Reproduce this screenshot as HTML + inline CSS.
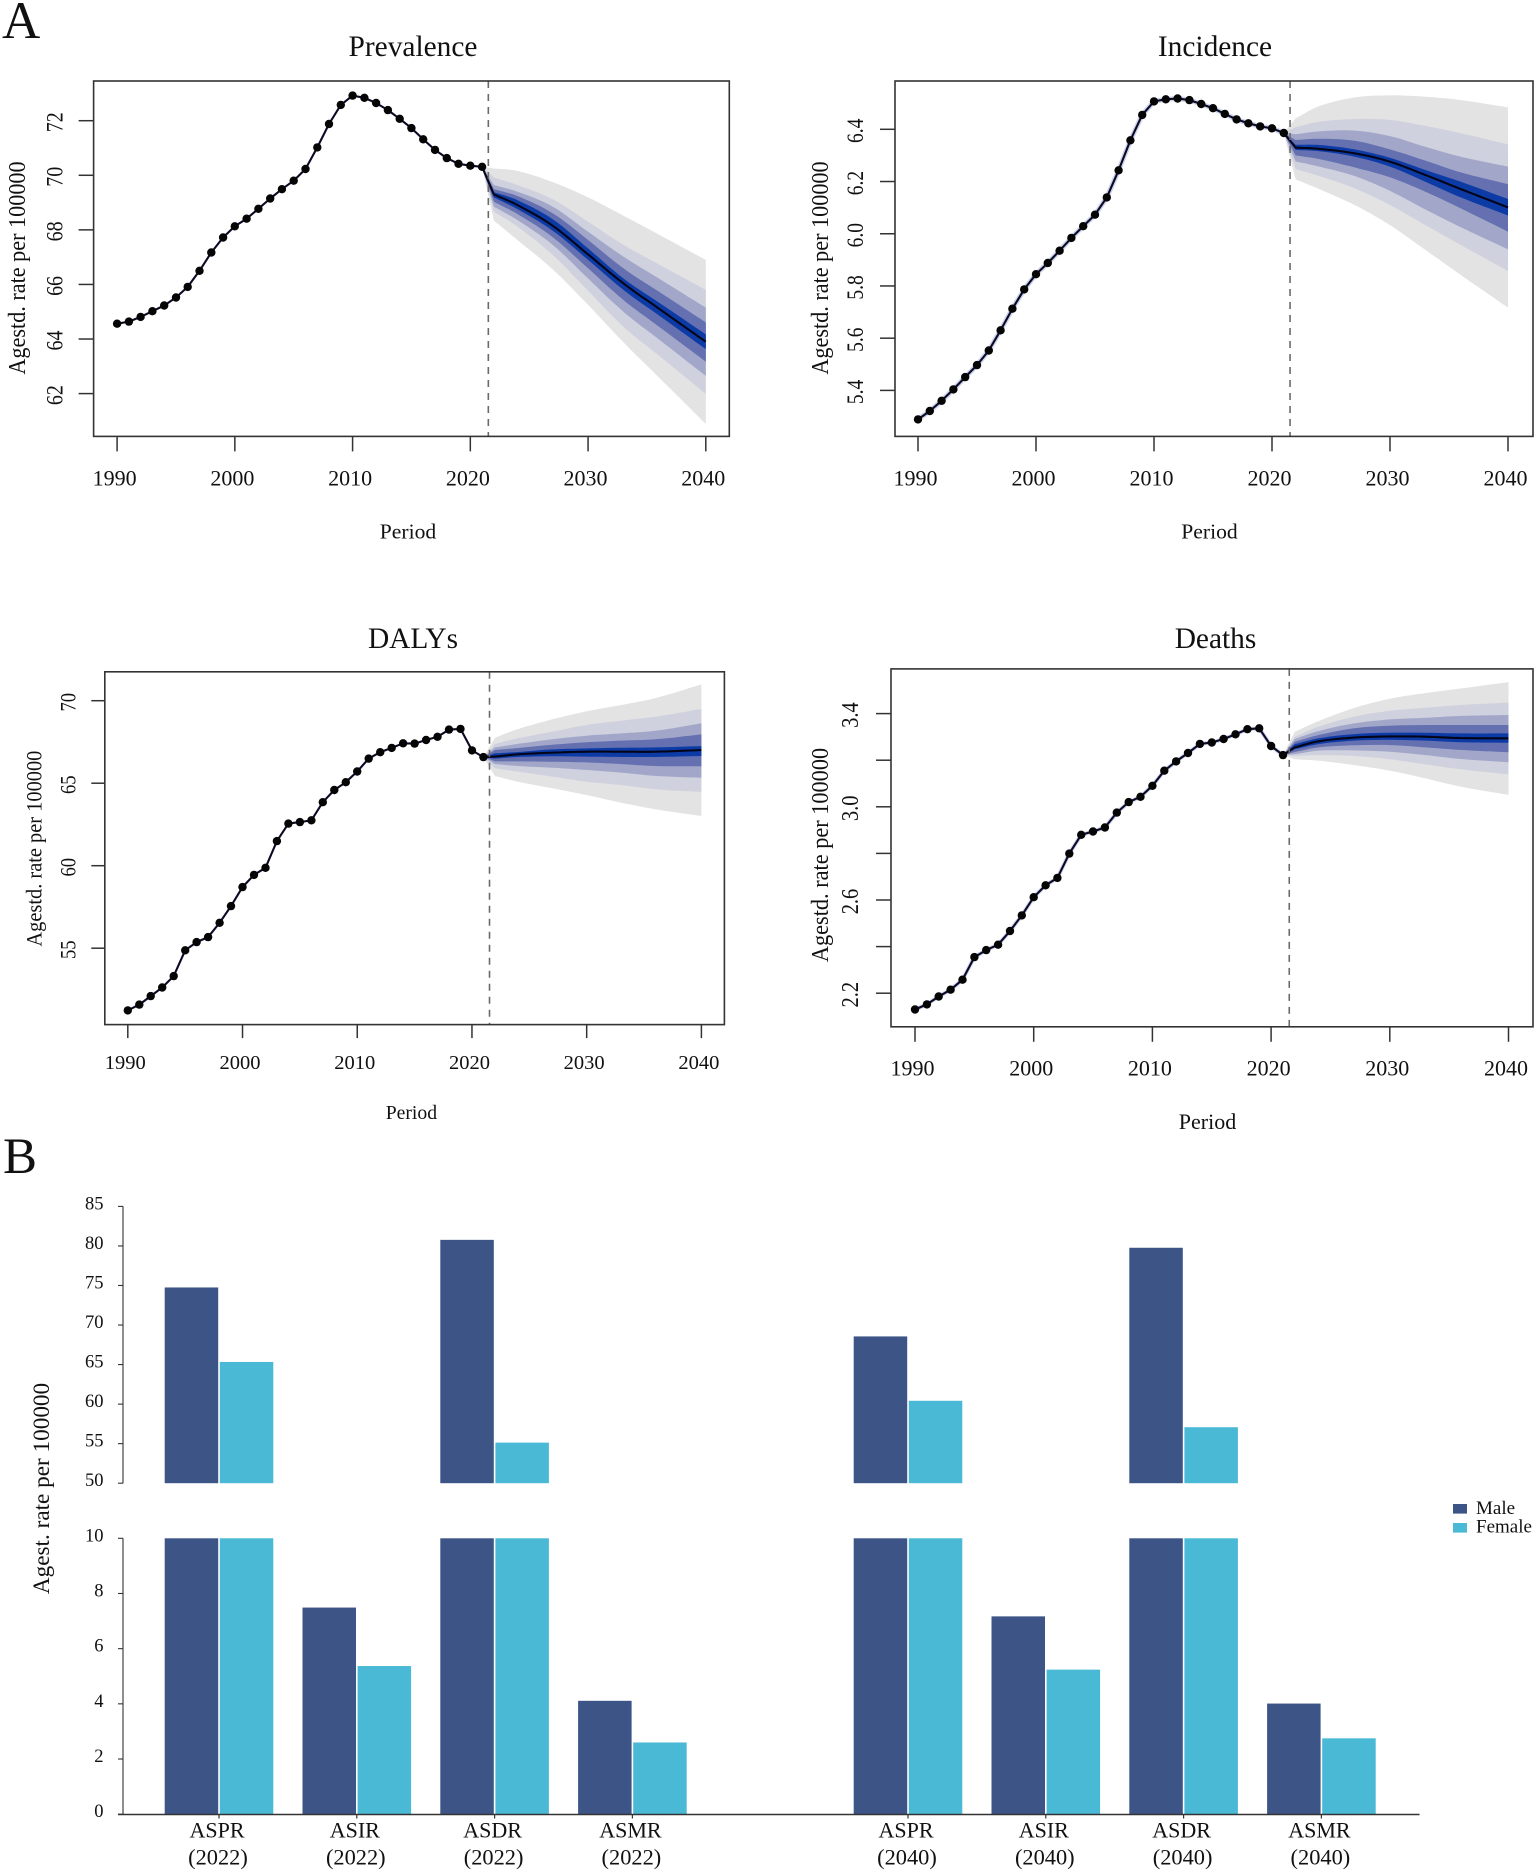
<!DOCTYPE html>
<html lang="en">
<head>
<meta charset="utf-8">
<title>Age-standardised rate projections</title>
<style>
html,body{margin:0;padding:0;background:#fff;}
svg{display:block;font-family:"Liberation Serif",serif;fill:#111;}
</style>
</head>
<body>
<svg id="chart" xmlns="http://www.w3.org/2000/svg" width="1535" height="1871" viewBox="0 0 1535 1871">
  <rect x="0" y="0" width="1535" height="1871" fill="#ffffff"/>
  <text x="2" y="38" font-size="53">A</text>
  <text x="3" y="1173" font-size="51">B</text>

  <g id="panel-prevalence"></g>
  <g id="panel-incidence"></g>
  <g id="panel-dalys"></g>
  <g id="panel-deaths"></g>
  <g id="panel-bars"></g>

  <text x="413" y="56" font-size="29.4" text-anchor="middle">Prevalence</text>
  <text x="1215" y="56" font-size="29.4" text-anchor="middle">Incidence</text>
  <text x="413" y="648" font-size="29.4" text-anchor="middle">DALYs</text>
  <text x="1215.5" y="648" font-size="29.4" text-anchor="middle">Deaths</text>

  <text x="408" y="538.6" font-size="21.6" text-anchor="middle">Period</text>
  <text x="1209.5" y="538.6" font-size="21.6" text-anchor="middle">Period</text>
  <text x="411.4" y="1119" font-size="19.7" text-anchor="middle">Period</text>
  <text x="1207.5" y="1129" font-size="22" text-anchor="middle">Period</text>

  <text transform="translate(25,268) rotate(-90) scale(1,1.1)" font-size="22.2" text-anchor="middle">Agestd. rate per 100000</text>
  <text transform="translate(828,268) rotate(-90) scale(1,1.1)" font-size="22.2" text-anchor="middle">Agestd. rate per 100000</text>
  <text transform="translate(41.6,848.6) rotate(-90) scale(1,1.1)" font-size="20.4" text-anchor="middle">Agestd. rate per 100000</text>
  <text transform="translate(828,855) rotate(-90) scale(1,1.1)" font-size="22.3" text-anchor="middle">Agestd. rate per 100000</text>

  <text transform="translate(49,1488.5) rotate(-90)" font-size="23.2" text-anchor="middle">Agest. rate per 100000</text>

  <g>
    <rect x="1453" y="1504" width="14" height="9.6" fill="#3d5487"/>
    <text x="1476" y="1514" font-size="19">Male</text>
    <rect x="1453" y="1523" width="14" height="9.6" fill="#4ab9d5"/>
    <text x="1476" y="1532.6" font-size="19">Female</text>
  </g>
</svg>

<script>
// ---------- Shared axis data ----------
const historyYears = [1990,1991,1992,1993,1994,1995,1996,1997,1998,1999,2000,2001,2002,2003,2004,2005,2006,2007,2008,2009,2010,2011,2012,2013,2014,2015,2016,2017,2018,2019,2020,2021];
const forecastYears = [2022,2024,2027,2030,2033,2036,2040];
const xTickYears = [1990,2000,2010,2020,2030,2040];
const xTickLabels = ["1990","2000","2010","2020","2030","2040"];

// ---------- Prevalence ----------
const prevalenceHistory = [64.56,64.64,64.81,65.02,65.23,65.52,65.91,66.50,67.17,67.72,68.13,68.41,68.77,69.15,69.49,69.80,70.23,71.02,71.88,72.58,72.92,72.84,72.65,72.39,72.07,71.73,71.32,70.93,70.63,70.42,70.35,70.31];
const prevalenceMedian = [69.30,68.91,68.15,67.10,66.04,65.12,63.90];
const prevalenceUpper = [
  [70.25,70.16,69.75,69.19,68.52,67.83,66.90],
  [69.92,69.64,69.12,68.30,67.45,66.74,65.80],
  [69.64,69.40,68.85,67.93,67.02,66.22,65.15],
  [69.49,69.24,68.61,67.63,66.59,65.74,64.61],
  [69.38,69.09,68.39,67.32,66.22,65.34,64.17]
];
const prevalenceLower = [
  [68.34,67.63,66.55,65.25,63.88,62.60,60.89],
  [68.67,68.12,67.08,65.77,64.45,63.40,61.99],
  [68.85,68.36,67.45,66.22,65.00,63.99,62.65],
  [69.03,68.58,67.73,66.59,65.43,64.46,63.17],
  [69.19,68.76,67.97,66.90,65.80,64.87,63.63]
];
const prevalenceYTicks = [62,64,66,68,70,72];
const prevalenceYLabels = ["62","64","66","68","70","72"];

// ---------- Incidence ----------
const incidenceHistory = [5.289,5.321,5.360,5.404,5.451,5.497,5.553,5.630,5.713,5.787,5.845,5.888,5.935,5.984,6.029,6.073,6.139,6.243,6.358,6.455,6.507,6.515,6.518,6.512,6.497,6.481,6.459,6.438,6.423,6.411,6.404,6.386];
const incidenceMedian = [6.330,6.325,6.308,6.276,6.225,6.171,6.101];
const incidenceUpper = [
  [6.442,6.489,6.522,6.530,6.525,6.512,6.484],
  [6.408,6.429,6.439,6.436,6.413,6.385,6.342],
  [6.381,6.392,6.395,6.374,6.333,6.295,6.257],
  [6.359,6.364,6.356,6.323,6.280,6.235,6.190],
  [6.341,6.340,6.323,6.291,6.244,6.199,6.133]
];
const incidenceLower = [
  [6.208,6.171,6.110,6.033,5.938,5.842,5.717],
  [6.248,6.221,6.174,6.110,6.033,5.957,5.857],
  [6.277,6.257,6.221,6.164,6.093,6.025,5.940],
  [6.300,6.286,6.254,6.216,6.161,6.097,6.008],
  [6.321,6.316,6.295,6.257,6.199,6.139,6.070]
];
const incidenceYTicks = [5.4,5.6,5.8,6.0,6.2,6.4];
const incidenceYLabels = ["5.4","5.6","5.8","6.0","6.2","6.4"];

// ---------- DALYs ----------
const dalysHistory = [51.23,51.58,52.10,52.62,53.31,54.87,55.37,55.67,56.54,57.55,58.70,59.44,59.87,61.49,62.55,62.64,62.75,63.85,64.59,65.06,65.71,66.49,66.88,67.14,67.42,67.40,67.62,67.81,68.25,68.29,66.99,66.58];
const dalysMedian = [66.61,66.75,66.85,66.91,66.91,66.91,67.01];
const dalysUpper = [
  [67.76,68.28,68.87,69.36,69.74,70.16,70.99],
  [67.38,67.72,68.12,68.53,68.79,69.03,69.50],
  [67.17,67.38,67.66,67.88,68.02,68.18,68.63],
  [67.01,67.13,67.33,67.48,67.58,67.66,67.96],
  [66.81,66.89,67.05,67.11,67.15,67.17,67.25]
];
const dalysLower = [
  [65.44,65.09,64.69,64.28,63.82,63.42,63.01],
  [65.90,65.70,65.40,65.09,64.89,64.63,64.47],
  [66.16,66.04,65.94,65.80,65.64,65.44,65.33],
  [66.32,66.32,66.30,66.26,66.16,66.04,66.02],
  [66.49,66.59,66.63,66.61,66.59,66.59,66.65]
];
const dalysYTicks = [55,60,65,70];
const dalysYLabels = ["55","60","65","70"];

// ---------- Deaths ----------
const deathsHistory = [2.130,2.152,2.186,2.215,2.258,2.355,2.385,2.408,2.467,2.534,2.612,2.663,2.695,2.799,2.880,2.894,2.911,2.975,3.020,3.043,3.090,3.155,3.195,3.231,3.270,3.276,3.291,3.311,3.333,3.337,3.261,3.222];
const deathsMedian = [3.255,3.281,3.297,3.302,3.301,3.295,3.294];
const deathsUpper = [
  [3.322,3.368,3.424,3.464,3.488,3.508,3.535],
  [3.301,3.344,3.387,3.412,3.425,3.437,3.447],
  [3.291,3.325,3.358,3.375,3.382,3.390,3.394],
  [3.279,3.308,3.337,3.348,3.351,3.351,3.351],
  [3.269,3.294,3.312,3.318,3.318,3.315,3.315]
];
const deathsLower = [
  [3.204,3.198,3.179,3.155,3.122,3.086,3.051],
  [3.218,3.222,3.218,3.204,3.182,3.161,3.139],
  [3.226,3.241,3.242,3.236,3.222,3.205,3.191],
  [3.235,3.255,3.264,3.265,3.255,3.244,3.234],
  [3.247,3.269,3.284,3.287,3.284,3.277,3.275]
];
const deathsYTicks = [2.2,2.4,2.6,2.8,3.0,3.2,3.4];
const deathsYLabels = ["2.2","","2.6","","3.0","","3.4"];

// ---------- Bars ----------
const barCategories = ["ASPR","ASIR","ASDR","ASMR","","ASPR","ASIR","ASDR","ASMR"];
const barPeriods = ["(2022)","(2022)","(2022)","(2022)","","(2040)","(2040)","(2040)","(2040)"];
const maleValues = [74.75,7.49,80.77,4.11,null,68.56,7.17,79.77,4.01];
const femaleValues = [65.33,5.37,55.13,2.60,null,60.42,5.24,57.08,2.75];
const upperAxisTicks = [50,55,60,65,70,75,80,85];
const lowerAxisTicks = [0,2,4,6,8,10];

const SVGNS = "http://www.w3.org/2000/svg";
const bandColors = ["#e3e3e3","#cfd1de","#a2a7ca","#6470b0","#0d3ba6"];
const bandNames = ["outer","wide","middle","narrow","inner"];

function make(parent, tag, attrs, text) {
  const el = document.createElementNS(SVGNS, tag);
  for (const k in attrs) el.setAttribute(k, attrs[k]);
  if (text !== undefined) el.textContent = text;
  parent.appendChild(el);
  return el;
}

// Smooth a curve through forecast nodes; the first leg from the anchor year stays straight.
function smoothCurve(xs, ys) {
  const pts = [[xs[0], ys[0]]];
  for (let i = 1; i < xs.length - 1; i++) {
    const i0 = Math.max(i - 1, 1), i3 = Math.min(i + 2, xs.length - 1);
    const x1 = xs[i], x2 = xs[i + 1], y1 = ys[i], y2 = ys[i + 1];
    const m1 = (ys[i + 1] - ys[i0]) / (xs[i + 1] - xs[i0]);
    const m2 = (ys[i3] - ys[i]) / (xs[i3] - xs[i]);
    const h = x2 - x1;
    for (let s = 0; s < 8; s++) {
      const t = s / 8, t2 = t * t, t3 = t2 * t;
      pts.push([x1 + t * h,
        (2*t3 - 3*t2 + 1) * y1 + (t3 - 2*t2 + t) * h * m1 + (-2*t3 + 3*t2) * y2 + (t3 - t2) * h * m2]);
    }
  }
  pts.push([xs[xs.length - 1], ys[ys.length - 1]]);
  return pts;
}

function drawForecastPanel(cfg) {
  const g = document.getElementById(cfg.id);
  const xPos = function (yr) { return cfg.x1990 + (yr - 1990) * (cfg.x2040 - cfg.x1990) / 50; };
  const yPos = function (v) { return cfg.yA + (v - cfg.vA) * (cfg.yB - cfg.yA) / (cfg.vB - cfg.vA); };
  const anchorYear = historyYears[historyYears.length - 1];
  const anchorValue = cfg.history[cfg.history.length - 1];
  const fx = [anchorYear].concat(forecastYears);
  const toPts = function (curve) { return curve.map(function (p) { return xPos(p[0]).toFixed(1) + "," + yPos(p[1]).toFixed(1); }); };

  // fan bands
  cfg.upper.forEach(function (up, i) {
    const top = toPts(smoothCurve(fx, [anchorValue].concat(up)));
    const bottom = toPts(smoothCurve(fx, [anchorValue].concat(cfg.lower[i]))).reverse();
    const el = make(g, "polygon", { points: top.concat(bottom).join(" "), fill: bandColors[i] });
    
    
  });

  // historic halo
  if (cfg.halo) {
    const halo = make(g, "polyline", {
      points: historyYears.map(function (yr, i) { return xPos(yr).toFixed(1) + "," + yPos(cfg.history[i]).toFixed(1); }).join(" "),
      fill: "none", stroke: "#cdd3ea", "stroke-width": cfg.halo
    });
    
    
  }

  // history line
  const line = make(g, "polyline", {
    points: historyYears.map(function (yr, i) { return xPos(yr).toFixed(1) + "," + yPos(cfg.history[i]).toFixed(1); }).join(" "),
    fill: "none", stroke: "#0a0a26", "stroke-width": 2.1, "stroke-linejoin": "round"
  });
  
  

  // median forecast line
  const med = make(g, "polyline", {
    points: toPts(smoothCurve(fx, [anchorValue].concat(cfg.median))).join(" "),
    fill: "none", stroke: "#05051a", "stroke-width": 2.1, "stroke-linejoin": "round"
  });
  
  

  // points
  historyYears.forEach(function (yr, i) {
    const dot = make(g, "circle", { cx: xPos(yr).toFixed(1), cy: yPos(cfg.history[i]).toFixed(1), r: 4.2, fill: "#050505" });
    
    
  });

  // dashed divider
  const dash = make(g, "line", {
    x1: xPos(2021.53), x2: xPos(2021.53), y1: cfg.top, y2: cfg.bottom,
    stroke: "#6a6a6a", "stroke-width": 1.6, "stroke-dasharray": "7 6"
  });
  
  

  // plot frame
  const frame = make(g, "rect", {
    x: cfg.left, y: cfg.top, width: cfg.right - cfg.left, height: cfg.bottom - cfg.top,
    fill: "none", stroke: "#333333", "stroke-width": 1.6
  });
  
  

  // x ticks + labels
  xTickYears.forEach(function (yr, i) {
    const t = make(g, "line", { x1: xPos(yr), x2: xPos(yr), y1: cfg.bottom, y2: cfg.bottom + cfg.tick, stroke: "#333333", "stroke-width": 1.5 });
    
    
    const lab = make(g, "text", { x: xPos(yr) - 2.5, y: cfg.xLabelY, "font-size": cfg.xFont, "text-anchor": "middle" }, xTickLabels[i]);
    
    
  });

  // y ticks + labels
  cfg.yTicks.forEach(function (v, i) {
    const yy = yPos(v);
    const t = make(g, "line", { x1: cfg.left - cfg.tick, x2: cfg.left, y1: yy, y2: yy, stroke: "#333333", "stroke-width": 1.5 });
    
    
    if (cfg.yLabels[i]) {
      const lab = make(g, "text", {
        transform: "translate(" + cfg.yLabelX + "," + (yy + 1.5) + ") rotate(-90) scale(1,1.17)",
        "font-size": cfg.yFont, "text-anchor": "middle"
      }, cfg.yLabels[i]);
      
      
    }
  });
}

drawForecastPanel({ id: "panel-prevalence", key: "prevalence", history: prevalenceHistory, median: prevalenceMedian, upper: prevalenceUpper, lower: prevalenceLower,
  yTicks: prevalenceYTicks, yLabels: prevalenceYLabels, halo: 0,
  left: 93.6, right: 729.3, top: 81, bottom: 436.4, x1990: 117.1, x2040: 705.8,
  vA: 62, yA: 393.6, vB: 72, yB: 120.7, tick: 15, xLabelY: 485.5, xFont: 22, yLabelX: 62.3, yFont: 20 });

drawForecastPanel({ id: "panel-incidence", key: "incidence", history: incidenceHistory, median: incidenceMedian, upper: incidenceUpper, lower: incidenceLower,
  yTicks: incidenceYTicks, yLabels: incidenceYLabels, halo: 5,
  left: 895, right: 1533, top: 81, bottom: 436.4, x1990: 918, x2040: 1508,
  vA: 5.4, yA: 390.4, vB: 6.4, yB: 129.3, tick: 15, xLabelY: 485.5, xFont: 22, yLabelX: 863, yFont: 19.5 });

drawForecastPanel({ id: "panel-dalys", key: "dalys", history: dalysHistory, median: dalysMedian, upper: dalysUpper, lower: dalysLower,
  yTicks: dalysYTicks, yLabels: dalysYLabels, halo: 0,
  left: 104.8, right: 724.4, top: 671.8, bottom: 1024.6, x1990: 127.8, x2040: 701.4,
  vA: 55, yA: 948.2, vB: 70, yB: 700.7, tick: 13.5, xLabelY: 1069, xFont: 20.5, yLabelX: 75.5, yFont: 18.6 });

drawForecastPanel({ id: "panel-deaths", key: "deaths", history: deathsHistory, median: deathsMedian, upper: deathsUpper, lower: deathsLower,
  yTicks: deathsYTicks, yLabels: deathsYLabels, halo: 4,
  left: 891, right: 1533, top: 668.9, bottom: 1026.8, x1990: 915, x2040: 1508.5,
  vA: 2.2, yA: 993.2, vB: 3.4, yB: 713.6, tick: 15, xLabelY: 1075.5, xFont: 22, yLabelX: 858, yFont: 20.5 });

// ---------- Broken-axis bar chart ----------
(function drawBars() {
  const g = document.getElementById("panel-bars");
  const upperY = function (v) { return 1483.2 + (v - 50) * (1206.4 - 1483.2) / 35; };
  const lowerY = function (v) { return 1814.2 + v * (1538.3 - 1814.2) / 10; };
  const catX = function (i) { return 219 + 137.8 * i; };
  const barWidth = 53.5;

  function drawBar(i, value, side, color, key) {
    if (value === null) return;
    const x = side < 0 ? catX(i) - barWidth - 0.8 : catX(i) + 0.8;
    const lowTop = lowerY(Math.min(value, 10));
    const low = make(g, "rect", { x: x, y: lowTop, width: barWidth, height: lowerY(0) - lowTop, fill: color });
    
    
    if (value > 50) {
      const top = upperY(value);
      const up = make(g, "rect", { x: x, y: top, width: barWidth, height: upperY(50) - top, fill: color });
      
      
    }
  }

  barCategories.forEach(function (c, i) {
    drawBar(i, maleValues[i], -1, "#3d5487", "male");
    drawBar(i, femaleValues[i], 1, "#4ab9d5", "female");
    if (!c) return;
    const t = make(g, "line", { x1: catX(i), x2: catX(i), y1: 1814.5, y2: 1818.5, stroke: "#333333", "stroke-width": 1.2 });
    
    
    const lab = make(g, "text", { x: catX(i) - 2, y: 1837.5, "font-size": 22, "text-anchor": "middle" }, c);
    
    
    const per = make(g, "text", { x: catX(i) - 1, y: 1864.4, "font-size": 22.4, "text-anchor": "middle" }, barPeriods[i]);
    
    
  });

  const xAxis = make(g, "line", { x1: 118, x2: 1419.5, y1: 1814.5, y2: 1814.5, stroke: "#333333", "stroke-width": 1.6 });
  
  

  const upperAxis = make(g, "line", { x1: 123, x2: 123, y1: upperY(85), y2: upperY(50), stroke: "#333333", "stroke-width": 1.1 });
  
  

  const lowerAxis = make(g, "line", { x1: 123, x2: 123, y1: lowerY(10), y2: lowerY(0), stroke: "#333333", "stroke-width": 1.1 });
  
  

  upperAxisTicks.forEach(function (v) {
    const t = make(g, "line", { x1: 118, x2: 123, y1: upperY(v), y2: upperY(v), stroke: "#333333", "stroke-width": 1.1 });
    
    
    const lab = make(g, "text", { x: 103.5, y: upperY(v) + 3, "font-size": 18.5, "text-anchor": "end" }, String(v));
    
    
  });

  lowerAxisTicks.forEach(function (v) {
    const t = make(g, "line", { x1: 118, x2: 123, y1: lowerY(v), y2: lowerY(v), stroke: "#333333", "stroke-width": 1.1 });
    
    
    const lab = make(g, "text", { x: 103.5, y: lowerY(v) + 3, "font-size": 18.5, "text-anchor": "end" }, String(v));
    
    
  });
})();
</script>
</body>
</html>
